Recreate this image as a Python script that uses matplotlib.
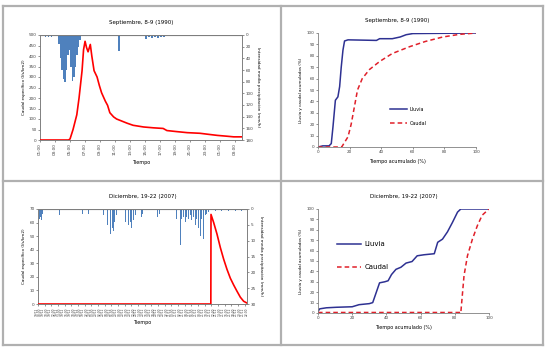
import numpy as np
import matplotlib.pyplot as plt
from matplotlib.lines import Line2D

# --- Septiembre, 8-9 (1990) : hydrograph (hours from start) ---
sep_q_t = [0, 3.8, 4.0, 4.4, 4.9, 5.2, 5.6, 5.8, 6.0, 6.2, 6.4, 6.7, 6.9, 7.2, 7.6, 7.9,
           8.2, 8.7, 9.0, 9.3, 9.8, 10.2, 10.9, 11.6, 12.4, 13.8, 15.1, 16.4, 16.9, 18.2,
           19.6, 21.3, 22.2, 23.6, 24.9, 25.8, 26.9]
sep_q = [0, 0, 5, 50, 120, 200, 330, 430, 470, 440, 420, 455, 400, 330, 300, 260,
         225, 185, 165, 130, 110, 100, 90, 80, 70, 62, 58, 55, 45, 40,
         35, 32, 28, 22, 18, 15, 15]
sep_p_t = [0.6, 0.8, 1.0, 1.2, 1.4, 2.4, 2.6, 2.8, 3.0, 3.2, 3.4, 3.6, 3.8, 4.0, 4.2,
           4.4, 4.6, 4.8, 5.0, 5.2, 10.4, 14.0, 14.4, 14.8, 15.2, 15.6, 16.0, 16.4]
sep_p = [3, 2, 3, 2, 3, 15, 40, 60, 75, 80, 60, 35, 25, 55, 78,
         72, 55, 35, 20, 8, 28, 6, 4, 5, 3, 5, 4, 3]
sep_ticks = ['01:00', '03:00', '05:00', '07:00', '09:00', '11:00', '13:00', '15:00',
             '17:00', '19:00', '21:00', '23:00', '01:00', '03:00']

# --- Diciembre, 19-22 (2007) : hydrograph ---
dic_q_t = [0, 51.85, 51.9, 52.7, 53.7, 54.7, 55.7, 56.7, 57.7, 58.7, 59.7, 60.7, 61.7, 62.7]
dic_q = [0, 0, 66, 60, 51.5, 41.6, 33, 25.5, 19, 14, 9.4, 5, 2, 0.7]
dic_p_t = [0.2, 0.5, 0.8, 1.1, 6.2, 13.3, 14.0, 15.0, 18.2, 19.5, 20.3, 20.8, 21.2, 21.7,
           22.1, 22.5, 22.9, 23.5, 25.7, 26.2, 26.6, 27.1, 27.5, 28.0, 28.4, 29.0, 30.8,
           31.3, 35.7, 36.2, 41.5, 42.5, 43.0, 43.5, 44.0, 44.5, 45.0, 45.5, 46.0, 46.5,
           47.0, 47.5, 48.0, 48.5, 49.0, 49.5, 50.0, 50.5, 51.0, 53.0, 55.0, 57.0, 59.0, 61.0]
dic_p = [3, 2.5, 3.5, 1.5, 2, 1.5, 2, 1.5, 1.5, 2, 3, 5, 4, 8,
         6, 7, 4, 2, 2, 4, 3, 5, 4, 6, 3.5, 2, 2.5,
         1.5, 2.5, 1.5, 3, 11.5, 3, 2.5, 4, 2.5, 3, 2, 3.5, 2.5,
         5, 3, 6, 8.5, 3, 9.5, 2, 1.5, 1, 0.5, 0.5, 0.5, 0.5, 0.5]
dic_days = (['19/12'] * 8 + ['20/12'] * 12 + ['21/12'] * 12)[:32]
dic_hours = (['08:00', '10:00', '12:00', '14:00', '16:00', '18:00', '20:00', '22:00'] +
             ['00:00', '02:00', '04:00', '06:00', '08:00', '10:00', '12:00', '14:00',
              '16:00', '18:00', '20:00', '22:00'] * 2)[:32]

# --- cumulative curves (%) ---
sep_ll_x = [0, 3, 7, 8.4, 9.5, 11, 12.6, 13.7, 14.7, 15.8, 16.8, 19, 37, 39, 47, 52, 55.8, 60, 100]
sep_ll_y = [0, 1, 1, 3, 18, 41, 44, 53, 70, 85, 93, 94, 93.5, 95, 95, 96.5, 98.5, 99.5, 100]
sep_ca_x = [0, 15, 19, 21, 23, 25, 28, 32.6, 39, 47, 58, 68, 79, 89.5, 100]
sep_ca_y = [0, 0, 9, 20, 35, 50, 60, 68, 75, 82, 88, 92.6, 96.5, 98.8, 100]
dic_ll_x = [0, 1, 4.9, 10.7, 20, 24, 30, 32, 34, 36, 39, 41, 43, 45.6, 48.5, 51.5, 55, 58,
            62, 68, 70, 72.8, 75.7, 78.6, 81.6, 83.5, 100]
dic_ll_y = [1.6, 4, 5, 5.5, 6, 8, 9, 10, 19.5, 29, 30, 31, 37, 42, 44, 48, 49.5, 55,
            56, 57, 68, 71, 78, 87, 97, 100, 100]
dic_ca_x = [0, 83.4, 83.5, 85.4, 87.4, 90.3, 93.2, 96, 100]
dic_ca_y = [0.5, 0.5, 0, 36, 55, 71, 84, 94, 100]

BLUE = '#4f81bd'
RED = '#ff0000'
NAVY = '#2e3192'
GRID = '#808080'

plt.rcParams['font.family'] = 'DejaVu Sans'
fig = plt.figure(figsize=(5.52, 3.52), dpi=100)
fig.patch.set_facecolor('white')

# panel grid lines
W, H = 552.0, 352.0
for x in [3, 281, 543]:
    fig.add_artist(Line2D([x / W, x / W], [1 - 6 / H, 1 - 345 / H], color='#b0b0b0', lw=1.6))
for y in [6, 181, 345]:
    fig.add_artist(Line2D([3 / W, 543 / W], [1 - y / H, 1 - y / H], color='#b0b0b0', lw=1.6))


def style(ax, fs=3):
    for s in ax.spines.values():
        s.set_color(GRID)
        s.set_linewidth(0.6)
    ax.tick_params(labelsize=fs, length=1.5, width=0.4, colors='#404040', pad=1)


def hydro(rect, qt, q, pt, p, qmax, qstep, pmax, pstep, ticks, title, bw, xfs):
    ax = fig.add_axes(rect)
    ax.plot(qt, q, color=RED, lw=1.2, zorder=3)
    ax.set_ylim(0, qmax)
    ax.set_yticks(np.arange(0, qmax + 1, qstep))
    ax.set_xlim(0, qt[-1])
    ax.set_xticks(np.arange(len(ticks)) * 2)
    ax.set_xticklabels(ticks, rotation=90, linespacing=0.9)
    ax.set_title(title, fontsize=4, pad=8)
    ax.set_xlabel('Tiempo', fontsize=3.5, labelpad=3)
    ax.set_ylabel('Caudal específico (l/s/km2)', fontsize=3, labelpad=2)
    style(ax)
    ax.tick_params(axis='x', labelsize=xfs)
    ax2 = ax.twinx()
    ax2.bar(pt, p, width=bw, color=BLUE, align='edge', zorder=2)
    ax2.axhline(0, color='#404040', lw=0.8)
    ax2.set_ylim(pmax, 0)
    ax2.set_yticks(np.arange(0, pmax + 1, pstep))
    ax2.set_ylabel('Intensidad media precipitación (mm/h)', fontsize=3, rotation=270, labelpad=5)
    style(ax2)
    ax.set_zorder(ax2.get_zorder() + 1)
    ax.patch.set_visible(False)
    return ax


def cumul(rect, llx, lly, cax, cay, title, legpos, legfs, spacing):
    ax = fig.add_axes(rect)
    ax.plot(llx, lly, color=NAVY, lw=1.1, label='Lluvia')
    ax.plot(cax, cay, color='#e0202a', lw=1.1, ls=(0, (3, 2)), label='Caudal')
    ax.set_xlim(0, 100)
    ax.set_ylim(0, 100)
    ax.set_xticks(range(0, 101, 20))
    ax.set_yticks(range(0, 101, 10))
    ax.set_title(title, fontsize=4, pad=8)
    ax.set_xlabel('Tiempo acumulado (%)', fontsize=3.5, labelpad=3)
    ax.set_ylabel('Lluvia y caudal acumulados (%)', fontsize=3, labelpad=3)
    style(ax)
    ax.spines['top'].set_visible(False)
    ax.spines['right'].set_visible(False)
    ax.legend(loc='center left', bbox_to_anchor=legpos, frameon=False, fontsize=legfs,
              handlelength=3.5, labelspacing=spacing, borderpad=0, handletextpad=0.5)
    return ax


hydro([40 / W, 1 - 140 / H, 202 / W, 105 / H], sep_q_t, sep_q, sep_p_t, sep_p,
      500, 50, 180, 20, sep_ticks, 'Septiembre, 8-9 (1990)', 0.2, 3)
cumul([318 / W, 1 - 147 / H, 158 / W, 114 / H], sep_ll_x, sep_ll_y, sep_ca_x, sep_ca_y,
      'Septiembre, 8-9 (1990)', (0.44, 0.27), 3.5, 1.9)

dic_labels = [d + '\n' + h for d, h in zip(dic_days, dic_hours)]
hydro([38 / W, 1 - 304 / H, 209 / W, 95 / H], dic_q_t, dic_q, dic_p_t, dic_p,
      70, 10, 30, 5, dic_labels, 'Diciembre, 19-22 (2007)', 0.25, 2.1)
cumul([318 / W, 1 - 313 / H, 171 / W, 104 / H], dic_ll_x, dic_ll_y, dic_ca_x, dic_ca_y,
      'Diciembre, 19-22 (2007)', (0.09, 0.55), 5, 2.5)

fig.savefig('out.png', dpi=100)
